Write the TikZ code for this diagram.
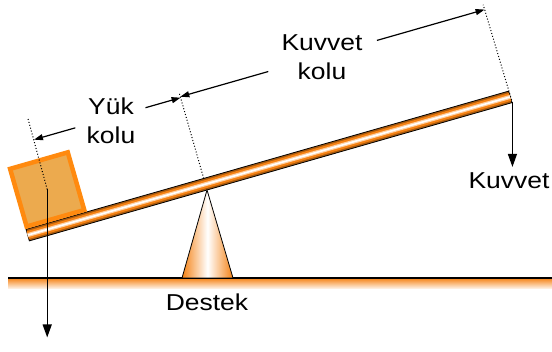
\documentclass[tikz,border=0pt]{standalone}
\usepackage{fontspec}
\setmainfont{Liberation Sans}[FakeStretch=1.15]
\usetikzlibrary{arrows.meta,calc}
\definecolor{barorange}{RGB}{245,130,20}
\definecolor{loadfill}{RGB}{236,170,78}
\definecolor{loadedge}{RGB}{255,138,15}
\tikzset{
    lbl/.style={
        font=\fontsize{23}{29}\selectfont,
        align=center,
        inner sep=0pt
    },
    bar/.style={
        draw=black,
        line width=0.8pt,
        fill=barorange!70!black
    },
    barstripe/.style={
        shorten <=0.5pt,
        shorten >=0.5pt
    },
    loadbox/.style={
        draw=loadedge,
        line width=4.5pt,
        fill=loadfill
    },
    fulcrum/.style={
        draw=black,
        line width=0.8pt,
        left color=barorange,
        right color=barorange,
        middle color=white
    },
    guide/.style={
        dotted,
        line width=1pt
    },
    force/.style={
        line width=1.3pt,
        -{Triangle[length=13pt,width=9pt]}
    },
    dim/.style={
        line width=1.2pt,
        -{Triangle[length=9pt,width=6pt]}
    }
}

\begin{document}
\begin{tikzpicture}[x=1pt,y=1pt]
    \useasboundingbox (0,0) rectangle (552,352);

    %% ground
    \shade[top color=barorange, bottom color=orange!5] (8,63) rectangle (552,74);
    \draw[line width=1.3pt] (8,74) -- (552,74);

    %% lever
    \node (bar) [bar,minimum width=502pt,minimum height=12pt,inner sep=0pt,rotate=15.98] at (269,186) {};
    \draw[barstripe,line width=8pt,barorange] (bar.west) -- (bar.east);
    \draw[barstripe,line width=4pt,orange!35] (bar.west) -- (bar.east);
    \draw[barstripe,line width=1.6pt,white] (bar.west) -- (bar.east);

    \begin{scope}[shift={(28,117)},rotate=15.98]
        \node (load) [loadbox,minimum size=60pt,inner sep=0pt,rotate=15.98] at (31,38.5) {};
        \coordinate (loadtop) at (32,113);
        \coordinate (pivot) at (184.5,-6);
        \coordinate (pivotbar) at (184.5,6);
        \coordinate (pivottop) at (184.5,95);
        \coordinate (endtop) at (501,96);
        %% arm arrows
        \coordinate (y1) at (75,90);
        \coordinate (y2) at (32,90);
        \coordinate (y3) at (148,90);
        \coordinate (y4) at (184.5,90);
        \coordinate (k1) at (276,91);
        \coordinate (k2) at (184.5,91);
        \coordinate (k3) at (389,91);
        \coordinate (k4) at (501,91);
    \end{scope}

    %% support
    \path[fulcrum] (182,74) -- (pivot) -- (233,74) -- cycle;

    %% guides
    \draw[guide] (load.center) -- (loadtop);
    \draw[guide] (pivotbar) -- (pivottop);
    \draw[guide] (bar.south east) -- (endtop);

    \draw[dim] (y1) -- (y2);
    \draw[dim] (y3) -- (y4);
    \draw[dim] (k1) -- (k2);
    \draw[dim] (k3) -- (k4);

    %% forces
    \coordinate (loadtip) at ($(load.center)+(0,-148)$);
    \coordinate (efforttip) at ($(bar.south east)+(0,-64)$);
    \draw[force] (load.center) -- (loadtip);
    \draw[force] (bar.south east) -- (efforttip);

    %% labels
    \node (yuk) [lbl] at (111,231) {Yük\\kolu};
    \node (kuvkol) [lbl] at (322,295) {Kuvvet\\kolu};
    \node (destek) [lbl] at (207,50) {Destek};
    \node (kuvvet) [lbl] at (509,171) {Kuvvet};

\end{tikzpicture}
\end{document}
